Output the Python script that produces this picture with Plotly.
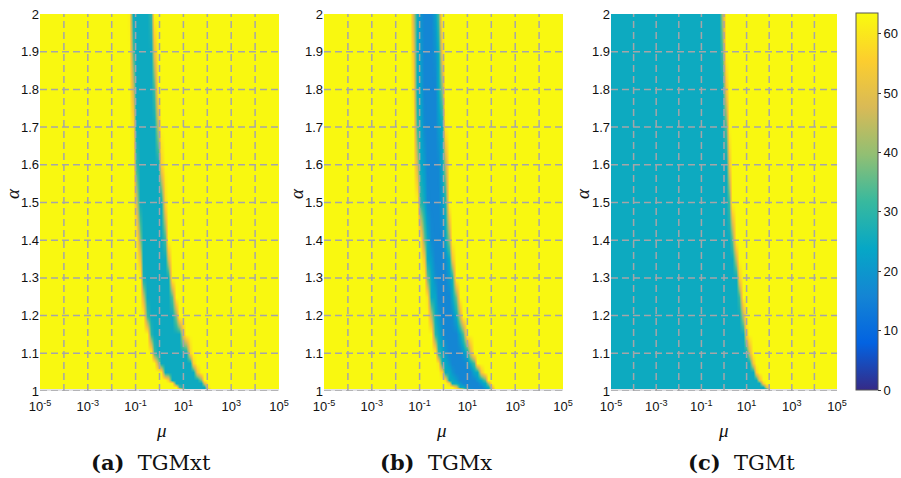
import numpy as np
import plotly.graph_objects as go

# ---------------------------------------------------------------------------
# Data: iteration counts over (mu, alpha).  Each band is described by its
# left/right edge in log10(mu) at a set of alpha levels.
# ---------------------------------------------------------------------------
alpha_levels = [1.005, 1.01, 1.02, 1.03, 1.05, 1.075, 1.1, 1.15, 1.2, 1.25, 1.3, 1.35,
                1.4, 1.5, 1.6, 1.7, 1.8, 1.9, 2.0]

# (a) TGMxt: cyan band
tgmxt_left = [0.96, 0.78, 0.59, 0.42, 0.14, -0.08, -0.27, -0.43, -0.57, -0.66, -0.74, -0.79,
              -0.84, -0.95, -1.02, -1.06, -1.11, -1.16, -1.20]
tgmxt_right = [2.00, 1.95, 1.85, 1.74, 1.53, 1.37, 1.22, 0.94, 0.69, 0.56, 0.45, 0.36,
               0.27, 0.17, 0.03, -0.08, -0.18, -0.25, -0.32]
tgmxt_band_value = 25

# (b) TGMx: band with a lower-valued core
tgmx_left = [0.83, 0.55, 0.27, 0.13, -0.03, -0.16, -0.28, -0.43, -0.52, -0.61, -0.70, -0.78,
             -0.85, -1.02, -1.11, -1.17, -1.21, -1.23, -1.26]
tgmx_right = [2.02, 1.98, 1.87, 1.75, 1.53, 1.31, 1.11, 0.86, 0.66, 0.55, 0.44, 0.34,
              0.24, 0.14, 0.08, 0.01, -0.06, -0.12, -0.18]
tgmx_edge_value = 25
tgmx_core_value = 16

# (c) TGMt: everything left of the boundary is in the low region
tgmt_boundary = [1.96, 1.85, 1.67, 1.55, 1.37, 1.23, 1.11, 0.93, 0.82, 0.72, 0.63, 0.52,
                 0.41, 0.27, 0.19, 0.11, 0.04, -0.03, -0.07]
tgmt_region_value = 25

outside_value = 63      # saturated value outside the bands
color_max = 63.5

x_exponents = list(range(-5, 6))
alpha_ticks = [1.0, 1.1, 1.2, 1.3, 1.4, 1.5, 1.6, 1.7, 1.8, 1.9, 2.0]
colorbar_ticks = [0, 10, 20, 30, 40, 50, 60]
captions = ["<b>(a)</b>  TGMxt", "<b>(b)</b>  TGMx", "<b>(c)</b>  TGMt"]

# MATLAB parula
parula = [
    [0.0, "#352A87"], [0.125, "#0363E1"], [0.25, "#1485D4"], [0.375, "#06A7C6"],
    [0.5, "#38B99E"], [0.625, "#92BF73"], [0.75, "#D9BA56"], [0.875, "#FCCE2E"],
    [1.0, "#F9FB0E"],
]

# Raster columns in log10(mu)
step = 0.15
cols = np.round(np.linspace(-5.0, 5.0, int(round(10 / step)) + 1), 4)
step = cols[1] - cols[0]


def coverage(lo, hi):
    """Fraction of each raster column covered by the interval [lo, hi]."""
    overlap = np.minimum(cols + step / 2, hi) - np.maximum(cols - step / 2, lo)
    return np.clip(overlap, 0, None) / step


def band_rows(lefts, rights, value):
    rows = []
    for lo, hi in zip(lefts, rights):
        c = coverage(lo, hi)
        rows.append(outside_value * (1 - c) + value * c)
    return np.array(rows)


def cored_band_rows(lefts, rights, edge_value, core_value):
    rows = []
    for lo, hi in zip(lefts, rights):
        c_band = coverage(lo, hi)
        w = hi - lo
        c_core = coverage(lo + 0.25 * w, lo + 0.8 * w)
        rows.append(outside_value * (1 - c_band) + edge_value * (c_band - c_core) + core_value * c_core)
    return np.array(rows)


z_a = band_rows(tgmxt_left, tgmxt_right, tgmxt_band_value)
z_b = cored_band_rows(tgmx_left, tgmx_right, tgmx_edge_value, tgmx_core_value)
z_c = band_rows([-10] * len(tgmt_boundary), tgmt_boundary, tgmt_region_value)

W, H = 901, 478
# plot areas in pixels: (left, right)
panels_px = [(40, 279), (324, 563), (611, 837)]
top_px, bottom_px = 14, 391
mu_label_x = [161, 441, 723]
alpha_label_x = [12, 296, 582]
caption_x = [151, 436, 741]

fig = go.Figure()
grid_color = "rgb(165,165,168)"
tick_font = dict(family="Liberation Sans", size=13, color="#111111")

for i, z in enumerate([z_a, z_b, z_c]):
    xa = "x" if i == 0 else f"x{i + 1}"
    ya = "y" if i == 0 else f"y{i + 1}"
    fig.add_trace(go.Heatmap(
        x=10.0 ** cols, y=alpha_levels, z=z,
        zmin=0, zmax=color_max, colorscale=parula, zsmooth="best",
        showscale=(i == 2), xaxis=xa, yaxis=ya, hoverinfo="skip",
        colorbar=dict(
            x=856 / W, xanchor="left", y=(H - 390) / H, yanchor="bottom",
            len=377 / H, lenmode="fraction", thickness=22, thicknessmode="pixels",
            xpad=0, ypad=0, outlinewidth=1, outlinecolor="#555555",
            tickvals=colorbar_ticks, ticks="outside", ticklen=3, tickcolor="#333333",
            tickfont=tick_font,
        ),
    ))
    # bottom edge row strip
    fig.add_trace(go.Scatter(
        x=[10.0 ** -5, 10.0 ** 5], y=[1.0, 1.0], mode="lines",
        line=dict(color="rgb(225,225,228)", width=4), xaxis=xa, yaxis=ya,
        showlegend=False, hoverinfo="skip"))
    # dashed grid drawn over the image
    gx, gy = [], []
    for e in x_exponents[1:-1]:
        gx += [10.0 ** e, 10.0 ** e, None]
        gy += [1.0, 2.0, None]
    for a in alpha_ticks[1:-1]:
        gx += [10.0 ** -5, 10.0 ** 5, None]
        gy += [a, a, None]
    gx += [10.0 ** -5, 10.0 ** 5]
    gy += [1.0, 1.0]
    fig.add_trace(go.Scatter(
        x=gx, y=gy, mode="lines",
        line=dict(color=grid_color, width=1.5, dash="7px,4px"),
        xaxis=xa, yaxis=ya, showlegend=False, hoverinfo="skip"))

    l, r = panels_px[i]
    xkey = "xaxis" if i == 0 else f"xaxis{i + 1}"
    ykey = "yaxis" if i == 0 else f"yaxis{i + 1}"
    fig.layout[xkey] = dict(
        domain=[l / W, r / W], anchor=ya, type="log", range=[-5, 5],
        tickvals=[10.0 ** e for e in x_exponents],
        ticktext=[f"10<sup>{e}</sup>" if e % 2 else "" for e in x_exponents],
        showgrid=False, zeroline=False, showline=False, ticks="",
        ticklabelstandoff=6, automargin=False, tickfont=tick_font,
    )
    fig.layout[ykey] = dict(
        domain=[(H - bottom_px) / H, (H - top_px) / H], anchor=xa, range=[1, 2],
        tickvals=alpha_ticks,
        ticktext=[("%g" % a) for a in alpha_ticks],
        showgrid=False, zeroline=False, showline=False, ticks="",
        automargin=False, tickfont=tick_font,
    )
    fig.add_annotation(x=mu_label_x[i] / W, y=(H - 430) / H, xref="paper", yref="paper",
                       xanchor="center", yanchor="middle",
                       text="<i>μ</i>", showarrow=False,
                       font=dict(family="Liberation Serif", size=19, color="#111111"))
    fig.add_annotation(x=alpha_label_x[i] / W, y=(H - 194) / H, xref="paper", yref="paper",
                       xanchor="center", yanchor="middle",
                       text="<i>α</i>", showarrow=False, textangle=-90,
                       font=dict(family="Liberation Serif", size=19, color="#111111"))
    fig.add_annotation(x=caption_x[i] / W, y=(H - 462) / H, xref="paper", yref="paper",
                       xanchor="center", yanchor="middle",
                       text=captions[i], showarrow=False,
                       font=dict(family="DejaVu Serif", size=21, color="#111111"))

fig.update_layout(
    width=W, height=H, margin=dict(l=0, r=0, t=0, b=0),
    paper_bgcolor="white", plot_bgcolor="white", showlegend=False,
)

fig.write_html("out.html")
